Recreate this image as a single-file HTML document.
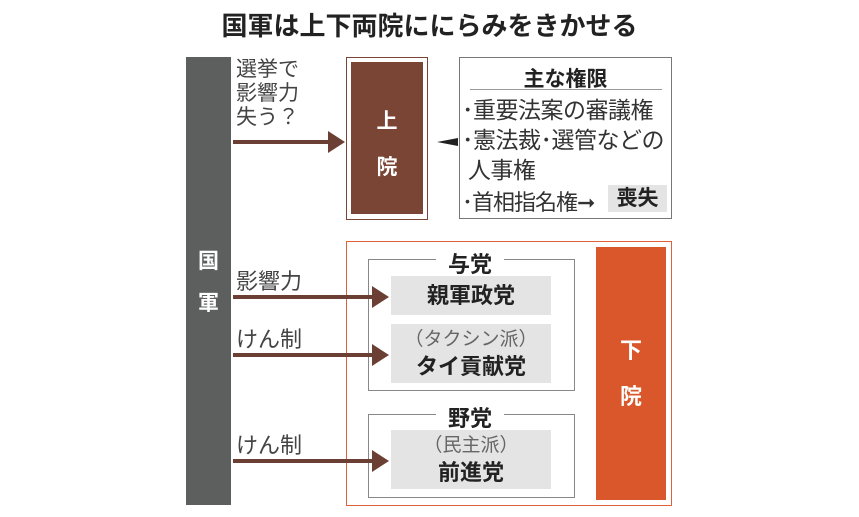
<!DOCTYPE html><html><head><meta charset="utf-8"><style>
body{margin:0;width:859px;height:517px;background:#fff;position:relative;overflow:hidden;font-family:"Liberation Sans","Noto Sans CJK JP",sans-serif;color:#222}
.a{position:absolute}
.t{white-space:nowrap}
.g{background:#e4e4e4}
</style></head><body>
<div class="a t" style="left:0;width:859px;top:6px;text-align:center;font-size:26px;font-weight:bold">国軍は上下両院ににらみをきかせる</div>
<div class="a" style="left:186px;top:57px;width:45px;height:448px;background:#5d5f5f"></div>
<div class="a t" style="left:186px;width:45px;top:241px;text-align:center;color:#fff;font-size:21px;font-weight:bold;line-height:42px">国<br>軍</div>
<div class="a" style="left:346px;top:57px;width:80px;height:161px;border:1px solid #7a4535"></div>
<div class="a" style="left:351px;top:62px;width:72px;height:152px;background:#7a4535"></div>
<div class="a t" style="left:351px;width:72px;top:99px;text-align:center;color:#fff;font-size:21px;font-weight:bold;line-height:46px">上<br>院</div>
<div class="a t" style="left:236px;top:58px;font-size:21px;line-height:24px;color:#444">選挙で<br>影響力<br>失う？</div>
<div class="a" style="left:459px;top:57px;width:211px;height:160px;border:1px solid #777"></div>
<div class="a t" style="left:459px;width:213px;top:63px;text-align:center;font-size:21px;font-weight:bold">主な権限</div>
<div class="a" style="left:470px;top:89px;width:192px;height:1px;background:#999"></div>
<div class="a t" style="left:462px;top:95px;font-size:23px;line-height:30px;color:#333;letter-spacing:-0.5px">･重要法案の審議権<br>･憲法裁･選管などの<br>&nbsp;人事権</div>
<div class="a t" style="left:462px;top:185px;font-size:22px;color:#333;letter-spacing:-1px">･首相指名権➞</div>
<div class="a g t" style="left:608px;top:185px;width:59px;height:27px;font-size:21px;font-weight:bold;text-align:center;line-height:27px">喪失</div>
<div class="a" style="left:346px;top:241px;width:324px;height:263px;border:1.5px solid #e0603a"></div>
<div class="a" style="left:596px;top:247px;width:70px;height:253px;background:#d9572a"></div>
<div class="a t" style="left:596px;width:70px;top:328px;text-align:center;color:#fff;font-size:22px;font-weight:bold;line-height:46px">下<br>院</div>
<div class="a" style="left:368px;top:259px;width:205px;height:130px;border:1px solid #888"></div>
<div class="a t" style="left:436px;width:68px;top:247px;background:#fff;text-align:center;font-size:22px;font-weight:bold">与党</div>
<div class="a g t" style="left:391px;top:276px;width:160px;height:39px;text-align:center;line-height:39px;font-size:22px;font-weight:bold">親軍政党</div>
<div class="a g t" style="left:391px;top:324px;width:160px;height:59px;text-align:center;font-size:19px;line-height:27px;color:#666;padding-top:2px;box-sizing:border-box">（タクシン派）<br><b style="font-size:22px;color:#222">タイ貢献党</b></div>
<div class="a" style="left:368px;top:414px;width:205px;height:82px;border:1px solid #888"></div>
<div class="a t" style="left:436px;width:68px;top:401px;background:#fff;text-align:center;font-size:22px;font-weight:bold">野党</div>
<div class="a g t" style="left:391px;top:430px;width:160px;height:59px;text-align:center;font-size:19px;line-height:27px;color:#666;padding-top:2px;box-sizing:border-box">（民主派）<br><b style="font-size:22px;color:#222">前進党</b></div>
<div class="a t" style="left:236px;top:264px;font-size:22px;color:#444">影響力</div>
<div class="a t" style="left:236px;top:322px;font-size:22px;color:#444">けん制</div>
<div class="a t" style="left:236px;top:428px;font-size:22px;color:#444">けん制</div>
<svg class="a" style="left:0;top:0" width="859" height="517">
<g fill="#6b3f33" stroke="none">
<rect x="233" y="140" width="98" height="4"/><polygon points="328,131 345,142 328,153"/>
<rect x="233" y="295" width="142" height="4"/><polygon points="372,286 389,297 372,308"/>
<rect x="233" y="353" width="142" height="4"/><polygon points="372,344 389,355 372,366"/>
<rect x="233" y="459" width="142" height="4"/><polygon points="372,450 389,461 372,472"/>
</g>
<polygon points="437,142 458,138 458,146" fill="#222"/>
</svg>
</body></html>
